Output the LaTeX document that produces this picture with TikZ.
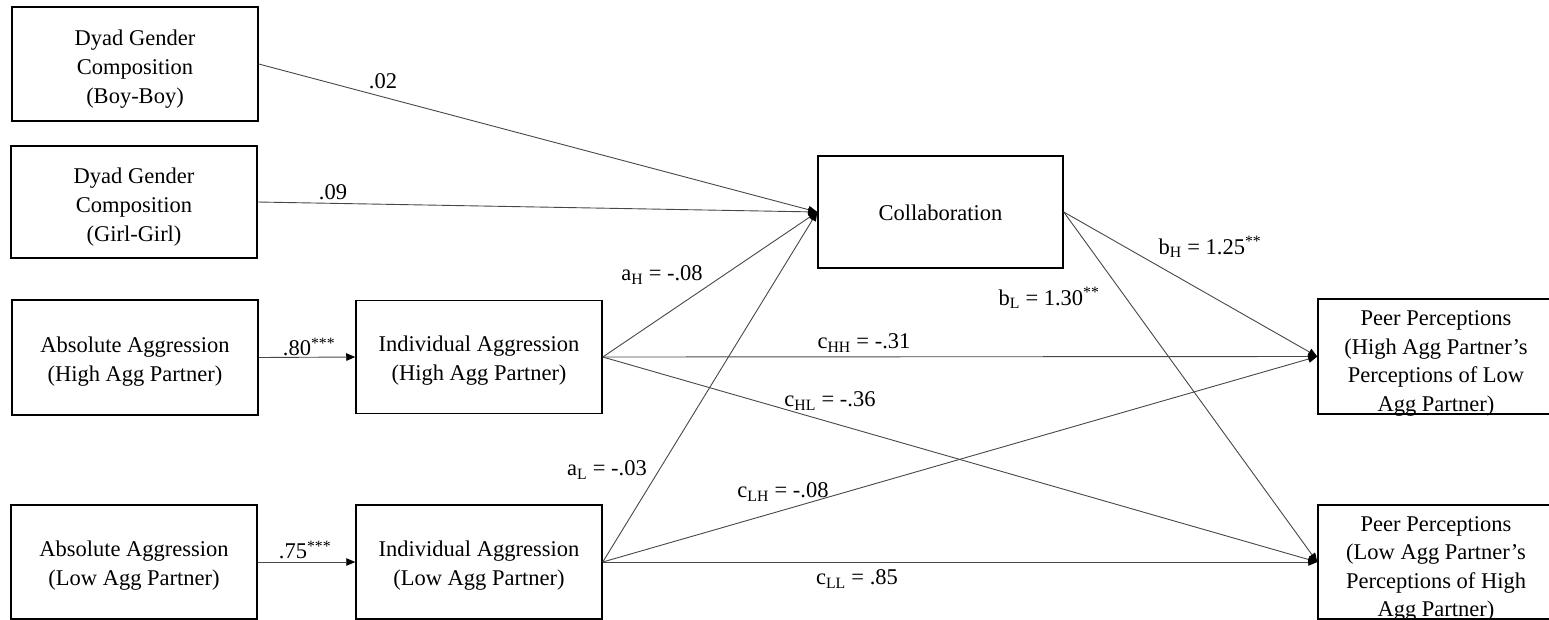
\documentclass[tikz,border=0pt]{standalone}
\usepackage{fontspec}
\setmainfont{Liberation Serif}
\usetikzlibrary{arrows.meta}
\begin{document}
\begin{tikzpicture}[x=1pt,y=-1pt,
  box/.style={draw=black, line width=1.5pt, minimum width=246pt, minimum height=114pt, inner sep=0pt},
  txt/.style={align=center, inner sep=0pt, font=\fontsize{22.5}{29}\selectfont},
  conn/.style={draw=black!72, line width=0.9pt, -{Triangle[length=9pt,width=7.5pt,color=black]}},
  lbl/.style={font=\fontsize{22.5}{27}\selectfont, inner sep=0pt}]
\useasboundingbox (0,0) rectangle (1549,619);
\clip (0,0) rectangle (1549,619);
% boxes
\node[box] (boy) at (135,64) {};
\node[box, minimum height=112pt] (girl) at (134,202) {};
\node[box, minimum height=115pt] (absH) at (135,357.5) {};
\node[box, minimum height=113pt] (indH) at (479,357) {};
\node[box] (absL) at (134,562) {};
\node[box] (indL) at (479,562) {};
\node[box, minimum width=245pt, minimum height=112pt] (collab) at (940.5,212) {};
\node[box, minimum width=236pt, minimum height=115pt] (peerH) at (1436,356.5) {};
\node[box, minimum width=236pt] (peerL) at (1436,562) {};
% box texts
\node[txt] (boyT) at ([yshift=-5pt]boy.center) {Dyad Gender\\Composition\\(Boy-Boy)};
\node[txt] (girlT) at ([yshift=-5pt]girl.center) {Dyad Gender\\Composition\\(Girl-Girl)};
\node[txt] (absHT) at ([yshift=-4pt]absH.center) {Absolute Aggression\\(High Agg Partner)};
\node[txt] (indHT) at ([yshift=-4pt]indH.center) {Individual Aggression\\(High Agg Partner)};
\node[txt] (absLT) at ([yshift=-4pt]absL.center) {Absolute Aggression\\(Low Agg Partner)};
\node[txt] (indLT) at ([yshift=-4pt]indL.center) {Individual Aggression\\(Low Agg Partner)};
\node[txt] (collabT) at ([yshift=-1pt]collab.center) {Collaboration};
\node[txt, font=\fontsize{22.5}{28.5}\selectfont] (peerHT) at ([yshift=-7pt]peerH.center) {Peer Perceptions\\(High Agg Partner’s\\Perceptions of Low\\Agg Partner)};
\node[txt, font=\fontsize{22.5}{28.5}\selectfont] (peerLT) at ([yshift=-7pt]peerL.center) {Peer Perceptions\\(Low Agg Partner’s\\Perceptions of High\\Agg Partner)};
% connectors
\draw[conn] (boy.east) -- (collab.west);
\draw[conn] (girl.east) -- (collab.west);
\draw[conn] (indH.east) -- (collab.west);
\draw[conn] (indL.east) -- (collab.west);
\draw[conn] (absH.east) -- (indH.west);
\draw[conn] (absL.east) -- (indL.west);
\draw[conn] (indH.east) -- (peerH.west);
\draw[conn] (indH.east) -- (peerL.west);
\draw[conn] (indL.east) -- (peerH.west);
\draw[conn] (indL.east) -- (peerL.west);
\draw[conn] (collab.east) -- (peerH.west);
\draw[conn] (collab.east) -- (peerL.west);
% labels
\node[lbl] (l1) at (383,81) {.02};
\node[lbl] (l2) at (333,192) {.09};
\node[lbl] (l3) at (309,347) {.80\textsuperscript{***}};
\node[lbl] (l4) at (305,550) {.75\textsuperscript{***}};
\node[lbl] (l5) at (662,275) {a\textsubscript{H} = -.08};
\node[lbl] (l6) at (607,470) {a\textsubscript{L} = -.03};
\node[lbl] (l7) at (1210,247) {b\textsubscript{H} = 1.25\textsuperscript{**}};
\node[lbl] (l8) at (1049,298) {b\textsubscript{L} = 1.30\textsuperscript{**}};
\node[lbl] (l9) at (864,343) {c\textsubscript{HH} = -.31};
\node[lbl] (l10) at (830,401) {c\textsubscript{HL} = -.36};
\node[lbl] (l11) at (783,492) {c\textsubscript{LH} = -.08};
\node[lbl] (l12) at (857,579) {c\textsubscript{LL} = .85};
\end{tikzpicture}
\end{document}
